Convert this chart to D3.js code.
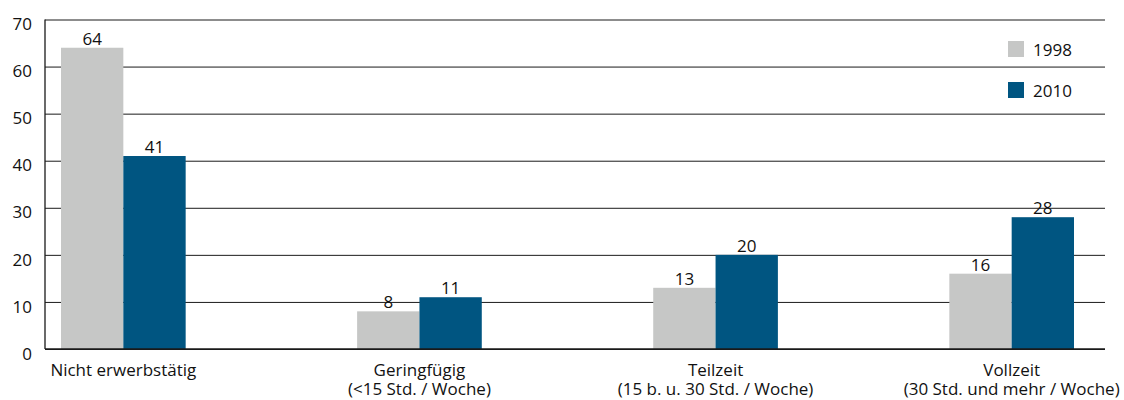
<!DOCTYPE html>
<html>
<head>
<meta charset="utf-8">
<script src="https://cdn.jsdelivr.net/npm/d3@7"></script>
<style>
  body { margin: 0; background: #fff; }
  text { font-family: "Open Sans", "Noto Sans", sans-serif; fill: #111; }
</style>
</head>
<body>
<script>
// categories (two-line labels)
const categories = ["Nicht erwerbstätig", "Geringfügig", "Teilzeit", "Vollzeit"];
const subLabels = ["", "(<15 Std. / Woche)", "(15 b. u. 30 Std. / Woche)", "(30 Std. und mehr / Woche)"];
const years = ["1998", "2010"];
const values1998 = [64, 8, 13, 16];
const values2010 = [41, 11, 20, 28];
const yTicks = [0, 10, 20, 30, 40, 50, 60, 70];
const colors = ["#c6c7c6", "#005581"];

const width = 1124, height = 400;
const margin = {top: 19.5, right: 19, bottom: 51, left: 45};

const svg = d3.select("body").append("svg")
    .attr("width", width)
    .attr("height", height);

// x = ƒ(category)
const x = d3.scaleBand()
    .domain(categories)
    .range([61, 1074])
    .paddingInner(0.579)
    .paddingOuter(0);

const xSub = d3.scaleBand()
    .domain(years)
    .range([0, x.bandwidth()]);

// y = ƒ(value)
const y = d3.scaleLinear()
    .domain([0, 70])
    .range([height - margin.bottom, margin.top]);

const rows = categories.map((c, i) => ({
    name: c,
    sub: subLabels[i],
    values: [values1998[i], values2010[i]]
}));

// gridlines + y labels
const yAxis = g => g
    .attr("transform", `translate(${margin.left},0)`)
    .call(d3.axisLeft(y).tickValues(yTicks).tickSize(-(width - margin.right - margin.left)).tickPadding(13))
    .call(g => g.select(".domain").remove())
    .call(g => g.selectAll(".tick line").attr("stroke", "#1a1a1a").attr("stroke-width", 1))
    .call(g => g.selectAll(".tick text")
        .attr("font-size", 17)
        .attr("dy", "0.95em")
        .attr("y", -6)
        .attr("font-family", "'Open Sans', 'Noto Sans', sans-serif")
        .attr("fill", "#111"));

svg.append("g").call(yAxis);

// bars
const groups = svg.append("g")
  .selectAll("g")
  .data(rows)
  .join("g")
    .attr("transform", d => `translate(${x(d.name)},0)`);

groups.selectAll("rect")
  .data(d => d.values.map((v, j) => ({year: years[j], value: v, j})))
  .join("rect")
    .attr("x", d => xSub(d.year))
    .attr("y", d => y(d.value))
    .attr("width", xSub.bandwidth())
    .attr("height", d => y(0) - y(d.value))
    .attr("fill", d => colors[d.j]);

groups.selectAll("text.val")
  .data(d => d.values.map((v, j) => ({year: years[j], value: v})))
  .join("text")
    .attr("class", "val")
    .attr("x", d => xSub(d.year) + xSub.bandwidth() / 2)
    .attr("y", d => y(d.value) - 3)
    .attr("text-anchor", "middle")
    .attr("font-size", 17)
    .text(d => d.value);

// axis lines
svg.append("line")
    .attr("x1", margin.left).attr("x2", margin.left)
    .attr("y1", y(70)).attr("y2", y(0))
    .attr("stroke", "#1a1a1a").attr("stroke-width", 1.3);
svg.append("line")
    .attr("x1", margin.left).attr("x2", width - margin.right)
    .attr("y1", y(0)).attr("y2", y(0))
    .attr("stroke", "#1a1a1a").attr("stroke-width", 1.6);

// category labels, two lines
const labels = svg.append("g");
labels.selectAll("text.cat")
  .data(rows)
  .join("text")
    .attr("class", "cat")
    .attr("x", d => x(d.name) + x.bandwidth() / 2)
    .attr("y", 376)
    .attr("text-anchor", "middle")
    .attr("font-size", 17)
    .text(d => d.name);
labels.selectAll("text.sub")
  .data(rows.filter(d => d.sub))
  .join("text")
    .attr("class", "sub")
    .attr("x", d => x(d.name) + x.bandwidth() / 2)
    .attr("y", 395)
    .attr("text-anchor", "middle")
    .attr("font-size", 17)
    .text(d => d.sub);

// legend
const legend = svg.append("g")
    .attr("transform", "translate(1008,41)")
  .selectAll("g")
  .data(years)
  .join("g")
    .attr("transform", (d, i) => `translate(0,${i * 41})`);
legend.append("rect")
    .attr("width", 16).attr("height", 16)
    .attr("fill", (d, i) => colors[i]);
legend.append("text")
    .attr("x", 25).attr("y", 15)
    .attr("font-size", 17)
    .text(d => d);
</script>
</body>
</html>
